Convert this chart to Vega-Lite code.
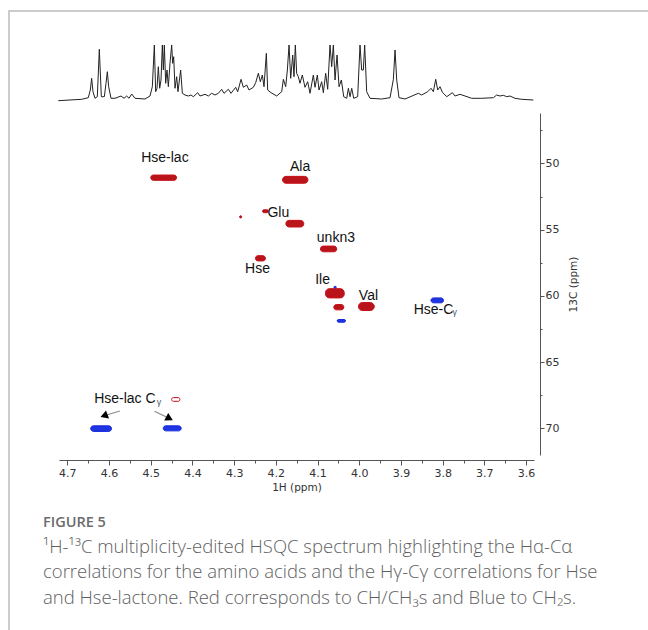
{
 "$schema": "https://vega.github.io/schema/vega-lite/v6.json",
 "width": 645,
 "height": 625,
 "autosize": {"type": "none"},
 "padding": {"left": 9, "top": 11, "right": -6, "bottom": -6},
 "background": "white",
 "title": {
  "text": "FIGURE 5",
  "subtitle": ["¹H-¹³C multiplicity-edited HSQC spectrum highlighting the Hα-Cα", "correlations for the amino acids and the Hγ-Cγ correlations for Hse", "and Hse-lactone. Red corresponds to CH/CH₃s and Blue to CH₂s."],
  "orient": "bottom", "anchor": "start", "frame": "group", "offset": -120, "dx": 34,
  "baseline": "top",
  "font": "Open Sans", "fontSize": 14.5, "fontWeight": 600, "color": "#6b6b6b",
  "subtitleFont": "Open Sans", "subtitleFontSize": 18.5, "subtitleFontWeight": 300, "subtitleColor": "#5f5f5f", "subtitleLineHeight": 25.5, "subtitlePadding": 7
 },
 "datasets": {
  "spectrum": [
   {"p":4.7216,"i":0.3},{"p":4.6657,"i":1.7},{"p":4.6497,"i":3.3},{"p":4.6449,"i":11},{"p":4.6417,"i":22.7},{"p":4.6385,"i":9.3},{"p":4.6337,"i":2.7},{"p":4.6281,"i":4.3},{"p":4.6233,"i":51.7},{"p":4.6185,"i":4.3},{"p":4.6113,"i":4.3},{"p":4.6073,"i":17.7},{"p":4.6041,"i":29.3},{"p":4.6009,"i":14.3},{"p":4.5953,"i":2.7},{"p":4.5857,"i":2.7},{"p":4.5713,"i":5},{"p":4.5641,"i":2.7},{"p":4.5577,"i":5},{"p":4.5521,"i":2.7},{"p":4.5457,"i":7},{"p":4.5377,"i":2.7},{"p":4.5138,"i":2},{"p":4.5018,"i":5},{"p":4.4962,"i":14.3},{"p":4.4914,"i":56},{"p":4.4882,"i":9.3},{"p":4.485,"i":12.7},{"p":4.4818,"i":34.3},{"p":4.4786,"i":12.7},{"p":4.4754,"i":21},{"p":4.4722,"i":56},{"p":4.4698,"i":31},{"p":4.4674,"i":56},{"p":4.4642,"i":17.7},{"p":4.461,"i":31},{"p":4.4578,"i":14.3},{"p":4.4538,"i":37.7},{"p":4.4498,"i":56},{"p":4.4474,"i":37.7},{"p":4.445,"i":44.3},{"p":4.4418,"i":12.7},{"p":4.4378,"i":24.3},{"p":4.4347,"i":9.3},{"p":4.4283,"i":31},{"p":4.4242,"i":7.7},{"p":4.4178,"i":6},{"p":4.4099,"i":5},{"p":4.4035,"i":6},{"p":4.3979,"i":4.3},{"p":4.3875,"i":8.3},{"p":4.3819,"i":5},{"p":4.3699,"i":6.7},{"p":4.3619,"i":5},{"p":4.3539,"i":7.7},{"p":4.3459,"i":6},{"p":4.3379,"i":7.7},{"p":4.3299,"i":11.7},{"p":4.3243,"i":7.7},{"p":4.3139,"i":11.7},{"p":4.3075,"i":7.7},{"p":4.2963,"i":13.7},{"p":4.2915,"i":9.3},{"p":4.2835,"i":21.7},{"p":4.2779,"i":13.7},{"p":4.2699,"i":16},{"p":4.2644,"i":11},{"p":4.254,"i":13.7},{"p":4.2484,"i":18.3},{"p":4.242,"i":27.7},{"p":4.2372,"i":19.3},{"p":4.2324,"i":26},{"p":4.2284,"i":14.3},{"p":4.2228,"i":47.7},{"p":4.2196,"i":11},{"p":4.2116,"i":8.3},{"p":4.198,"i":5},{"p":4.186,"i":9.3},{"p":4.182,"i":21.7},{"p":4.1764,"i":14.3},{"p":4.1724,"i":31},{"p":4.1684,"i":56},{"p":4.1644,"i":22.7},{"p":4.1596,"i":46},{"p":4.1565,"i":24.3},{"p":4.1533,"i":56},{"p":4.1501,"i":27.7},{"p":4.1461,"i":24.3},{"p":4.1421,"i":17.7},{"p":4.1365,"i":26},{"p":4.1301,"i":13.7},{"p":4.1237,"i":19.3},{"p":4.1181,"i":7.7},{"p":4.1101,"i":26},{"p":4.1061,"i":13.7},{"p":4.1005,"i":26},{"p":4.0965,"i":11},{"p":4.0901,"i":19.3},{"p":4.0861,"i":8.3},{"p":4.0805,"i":27.7},{"p":4.0757,"i":11.7},{"p":4.0701,"i":56},{"p":4.0661,"i":34.3},{"p":4.0621,"i":56},{"p":4.0581,"i":21},{"p":4.0533,"i":46},{"p":4.0485,"i":14.3},{"p":4.0429,"i":21},{"p":4.0373,"i":4.3},{"p":4.0301,"i":2.7},{"p":4.0261,"i":12.7},{"p":4.0221,"i":4.3},{"p":4.0181,"i":12.7},{"p":4.0133,"i":2.7},{"p":4.0038,"i":4.3},{"p":3.9982,"i":56},{"p":3.9942,"i":31},{"p":3.9902,"i":31},{"p":3.987,"i":56},{"p":3.9822,"i":9.3},{"p":3.9742,"i":2.7},{"p":3.9462,"i":2},{"p":3.9262,"i":3.3},{"p":3.9182,"i":21.7},{"p":3.9142,"i":51},{"p":3.9102,"i":21},{"p":3.9047,"i":3.3},{"p":3.8903,"i":2},{"p":3.8583,"i":7.7},{"p":3.8503,"i":6},{"p":3.8359,"i":9.3},{"p":3.8279,"i":12.7},{"p":3.8223,"i":9.3},{"p":3.8167,"i":21.7},{"p":3.8119,"i":11},{"p":3.8063,"i":14.3},{"p":3.8007,"i":8.7},{"p":3.7903,"i":4.3},{"p":3.7767,"i":8.3},{"p":3.7703,"i":5},{"p":3.7583,"i":6.7},{"p":3.7464,"i":5},{"p":3.7304,"i":2.7},{"p":3.7064,"i":2.7},{"p":3.6784,"i":3.3},{"p":3.6704,"i":6},{"p":3.6624,"i":5},{"p":3.6544,"i":5.7},{"p":3.6465,"i":4.3},{"p":3.6385,"i":5},{"p":3.6265,"i":2.7},{"p":3.6105,"i":1.7},{"p":3.5825,"i":1}
  ],
  "peaks": [
   {"name":"Hse-lac Ha","type":"CH/CH3","level":"strong","x1":4.500,"x2":4.438,"y1":50.88,"y2":51.28},
   {"name":"Ala","type":"CH/CH3","level":"strong","x1":4.184,"x2":4.123,"y1":50.98,"y2":51.5},
   {"name":"Glu side","type":"CH/CH3","level":"strong","x1":4.232,"x2":4.218,"y1":53.5,"y2":53.72},
   {"name":"dot","type":"CH/CH3","level":"strong","x1":4.287,"x2":4.282,"y1":53.95,"y2":54.12},
   {"name":"Glu","type":"CH/CH3","level":"strong","x1":4.176,"x2":4.133,"y1":54.3,"y2":54.8},
   {"name":"unkn3","type":"CH/CH3","level":"strong","x1":4.093,"x2":4.054,"y1":56.24,"y2":56.67},
   {"name":"Hse","type":"CH/CH3","level":"strong","x1":4.249,"x2":4.225,"y1":56.96,"y2":57.36},
   {"name":"Ile","type":"CH/CH3","level":"strong","x1":4.081,"x2":4.036,"y1":59.45,"y2":60.15},
   {"name":"tiny","type":"CH2","level":"strong","x1":4.061,"x2":4.055,"y1":59.28,"y2":59.4},
   {"name":"Val","type":"CH/CH3","level":"strong","x1":4.002,"x2":3.964,"y1":60.5,"y2":61.1},
   {"name":"small red","type":"CH/CH3","level":"strong","x1":4.061,"x2":4.037,"y1":60.65,"y2":61.05},
   {"name":"small blue","type":"CH2","level":"strong","x1":4.053,"x2":4.033,"y1":61.78,"y2":61.98},
   {"name":"Hse-Cg","type":"CH2","level":"strong","x1":3.828,"x2":3.798,"y1":60.15,"y2":60.52},
   {"name":"weak red","type":"CH/CH3","level":"weak","x1":4.450,"x2":4.430,"y1":67.67,"y2":67.95},
   {"name":"Hse-lac Cg 1","type":"CH2","level":"strong","x1":4.644,"x2":4.594,"y1":69.8,"y2":70.22},
   {"name":"Hse-lac Cg 2","type":"CH2","level":"strong","x1":4.470,"x2":4.427,"y1":69.8,"y2":70.18}
  ],
  "labels": [
   {"t":"Hse-lac","x":4.466,"y":49.6},
   {"t":"Ala","x":4.142,"y":50.28},
   {"t":"Glu","x":4.194,"y":53.75},
   {"t":"unkn3","x":4.056,"y":55.6},
   {"t":"Hse","x":4.244,"y":57.95},
   {"t":"Ile","x":4.088,"y":58.8},
   {"t":"Val","x":3.978,"y":60.0},
   {"t":"Hse-C","x":3.822,"y":61.03},
   {"t":"Hse-lac C","x":4.562,"y":67.75}
  ],
  "subs": [
   {"t":"γ","x":3.771,"y":61.2},
   {"t":"γ","x":4.480,"y":67.98}
  ],
  "arrows": [
   {"side":"left","x":4.574,"y":68.68,"xe":4.612,"ye":69.04},
   {"side":"right","x":4.491,"y":68.70,"xe":4.455,"ye":69.25}
  ]
 },
 "layer": [
  {
   "data": {"name": "spectrum"},
   "mark": {"type": "line", "color": "#222", "strokeWidth": 1},
   "encoding": {
    "x": {"field": "p", "type": "quantitative", "scale": {"domain": [4.72, 3.581], "range": [50, 525], "nice": false, "zero": false}, "axis": null},
    "y": {"field": "i", "type": "quantitative", "scale": {"domain": [0, 56], "range": [90, 34], "nice": false, "zero": false}, "axis": null}
   }
  },
  {
   "data": {"name": "peaks"},
   "mark": {"type": "rect", "cornerRadius": 4, "strokeWidth": 1},
   "encoding": {
    "x": {"field": "x1", "type": "quantitative", "scale": {"domain": [4.72, 3.581], "range": [50, 525], "nice": false, "zero": false},
     "axis": {"orient": "bottom", "offset": -176, "values": [4.7,4.6,4.5,4.4,4.3,4.2,4.1,4.0,3.9,3.8,3.7,3.6], "format": ".1f", "tickSize": 5, "labelPadding": 2, "labelFlush": false, "labelOverlap": false, "title": "1H (ppm)", "titlePadding": 4}},
    "x2": {"field": "x2"},
    "y": {"field": "y1", "type": "quantitative", "scale": {"domain": [46.2, 72.0], "range": [102, 444], "nice": false, "zero": false},
     "axis": {"orient": "right", "offset": -114, "values": [50,55,60,65,70], "tickSize": 4, "labelPadding": 1, "labelFlush": false, "labelOverlap": false, "title": "13C (ppm)", "titleAngle": 270, "titlePadding": 20}},
    "y2": {"field": "y2"},
    "fill": {"field": "type", "type": "nominal", "scale": {"domain": ["CH/CH3", "CH2"], "range": ["#b8141a", "#1f35e4"]}, "legend": null},
    "stroke": {"field": "type", "type": "nominal", "scale": {"domain": ["CH/CH3", "CH2"], "range": ["#c8101a", "#1428d8"]}, "legend": null},
    "fillOpacity": {"condition": {"test": "datum.level === 'weak'", "value": 0}, "value": 1}
   }
  },
  {
   "data": {"name": "labels"},
   "mark": {"type": "text", "font": "Liberation Sans", "fontSize": 14, "color": "#111", "baseline": "middle", "align": "center"},
   "encoding": {
    "x": {"field": "x", "type": "quantitative", "scale": {"domain": [4.72, 3.581], "range": [50, 525], "nice": false, "zero": false},
     "axis": {"orient": "bottom", "offset": -176, "values": [4.65,4.55,4.45,4.35,4.25,4.15,4.05,3.95,3.85,3.75,3.65], "tickSize": 3, "labels": false, "domain": false, "title": null}},
    "y": {"field": "y", "type": "quantitative", "scale": {"domain": [46.2, 72.0], "range": [102, 444], "nice": false, "zero": false},
     "axis": {"orient": "right", "offset": -114, "values": [47.5,52.5,57.5,62.5,67.5], "tickSize": 2, "labels": false, "domain": false, "title": null}},
    "text": {"field": "t"}
   }
  },
  {
   "data": {"name": "subs"},
   "mark": {"type": "text", "font": "Liberation Sans", "fontSize": 9, "color": "#4a5470", "baseline": "middle", "align": "center"},
   "encoding": {
    "x": {"field": "x", "type": "quantitative", "scale": {"domain": [4.72, 3.581], "range": [50, 525], "nice": false, "zero": false}, "axis": null},
    "y": {"field": "y", "type": "quantitative", "scale": {"domain": [46.2, 72.0], "range": [102, 444], "nice": false, "zero": false}, "axis": null},
    "text": {"field": "t"}
   }
  },
  {
   "data": {"name": "arrows"},
   "mark": {"type": "rule", "color": "#8a8a8a", "strokeWidth": 1.2},
   "encoding": {
    "x": {"field": "x", "type": "quantitative", "scale": {"domain": [4.72, 3.581], "range": [50, 525], "nice": false, "zero": false}, "axis": null},
    "x2": {"field": "xe"},
    "y": {"field": "y", "type": "quantitative", "scale": {"domain": [46.2, 72.0], "range": [102, 444], "nice": false, "zero": false}, "axis": null},
    "y2": {"field": "ye"}
   }
  },
  {
   "data": {"name": "arrows"},
   "transform": [{"filter": "datum.side === 'left'"}],
   "mark": {"type": "point", "shape": "triangle-up", "filled": true, "color": "#000", "opacity": 1, "size": 75, "angle": 249},
   "encoding": {
    "x": {"field": "xe", "type": "quantitative", "scale": {"domain": [4.72, 3.581], "range": [50, 525], "nice": false, "zero": false}, "axis": null},
    "y": {"field": "ye", "type": "quantitative", "scale": {"domain": [46.2, 72.0], "range": [102, 444], "nice": false, "zero": false}, "axis": null}
   }
  },
  {
   "data": {"name": "arrows"},
   "transform": [{"filter": "datum.side === 'right'"}],
   "mark": {"type": "point", "shape": "triangle-up", "filled": true, "color": "#000", "opacity": 1, "size": 75, "angle": 118},
   "encoding": {
    "x": {"field": "xe", "type": "quantitative", "scale": {"domain": [4.72, 3.581], "range": [50, 525], "nice": false, "zero": false}, "axis": null},
    "y": {"field": "ye", "type": "quantitative", "scale": {"domain": [46.2, 72.0], "range": [102, 444], "nice": false, "zero": false}, "axis": null}
   }
  }
 ],
 "resolve": {"scale": {"x": "independent", "y": "independent"}, "axis": {"x": "independent", "y": "independent"}},
 "config": {
  "view": {"stroke": "#bcbcbc", "strokeWidth": 1.5},
  "axis": {"grid": false, "domainColor": "#555", "tickColor": "#555", "labelColor": "#333", "titleColor": "#333", "labelFont": "DejaVu Sans", "titleFont": "DejaVu Sans", "labelFontSize": 11, "titleFontSize": 10.5, "titleFontWeight": "normal"}
 }
}
